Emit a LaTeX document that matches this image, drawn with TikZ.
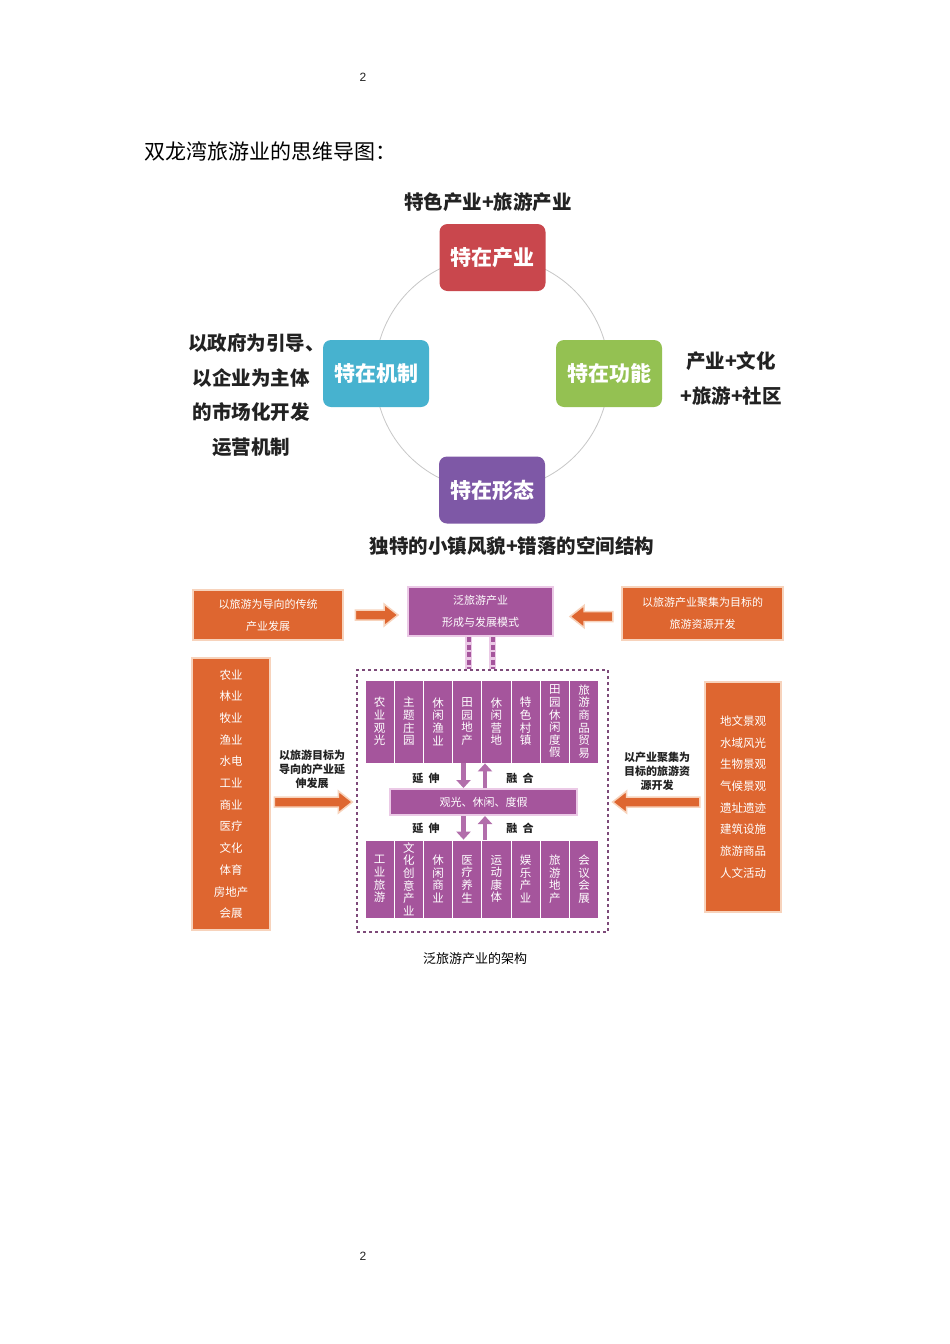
\documentclass[tikz,border=0pt]{standalone}
\usepackage{fontspec}
\setmainfont{Noto Sans CJK SC}
\newfontfamily\latinf{Liberation Sans}
\usetikzlibrary{calc,arrows.meta}
\definecolor{cred}{HTML}{C9474D}
\definecolor{cblue}{HTML}{47B2CF}
\definecolor{cgreen}{HTML}{94C152}
\definecolor{cviolet}{HTML}{7E58A6}
\definecolor{corange}{HTML}{DE6630}
\definecolor{cpeach}{HTML}{F7D3BC}
\definecolor{cpurple}{HTML}{A5559C}
\definecolor{cpink}{HTML}{EBC9E6}
\definecolor{cframe}{HTML}{7D4A79}
\definecolor{ctext}{HTML}{222222}
\newcommand\blockarr[2]{%
  \coordinate (ba-h) at ($(#2)!14pt!(#1)$);
  \filldraw[barr] ($(#1)!5pt!90:(#2)$) -- ($(ba-h)!5pt!90:(#2)$) -- ($(ba-h)!11pt!90:(#2)$) -- (#2)
     -- ($(ba-h)!11pt!-90:(#2)$) -- ($(ba-h)!5pt!-90:(#2)$) -- ($(#1)!5pt!-90:(#2)$) -- cycle;}
\begin{document}
\begin{tikzpicture}[x=1pt,y=-1pt,
  topbox/.style={rounded corners=8pt, minimum width=106pt, minimum height=67pt, inner sep=0pt,
     text=white, font=\bfseries\fontsize{21}{21}\selectfont},
  lbl/.style={font=\bfseries\fontsize{19.5}{34.5}\selectfont, align=center, text=ctext},
  obox/.style={fill=corange, draw=cpeach, line width=2.5pt, text=white, inner sep=0pt,
     font=\fontsize{11}{22}\selectfont, align=center},
  pbox/.style={fill=cpurple, draw=cpink, line width=2pt, text=white, inner sep=0pt,
     font=\fontsize{11}{22}\selectfont, align=center},
  colbox/.style={fill=cpurple, draw=white, line width=0.8pt, minimum width=29.2pt, inner sep=0pt,
     text=white, font=\fontsize{11.5}{12.6}\selectfont, align=center},
  small/.style={font=\bfseries\fontsize{11}{14}\selectfont, align=center, text=ctext},
  barr/.style={fill=corange, draw=cpeach, line width=1.5pt, line join=miter},
  parr/.style={draw=cpurple!85, line width=4.5pt, -{Triangle[width=14pt,length=8pt]}},
  pgnum/.style={font=\latinf\fontsize{12}{12}\selectfont, text=ctext}
]
\useasboundingbox (0,0) rectangle (950,1344);
\fill[white] (0,0) rectangle (950,1344);

\node[pgnum] (pg1) at (363,77) {2};
\node[pgnum] (pg2) at (363,1256) {2};
\node[anchor=west, font=\fontsize{21}{21}\selectfont, text=black, inner sep=0pt] (title) at (144,151) {双龙湾旅游业的思维导图：};

% ---- top mind map ----
\draw[black!22, line width=0.8pt] (492,373.5) circle (117);
\node[topbox, fill=cred] (ind) at (492.5,257.5) {特在产业};
\node[topbox, fill=cblue] (mech) at (376,373.5) {特在机制};
\node[topbox, fill=cgreen] (func) at (609,373.5) {特在功能};
\node[topbox, fill=cviolet] (form) at (492,490) {特在形态};

\node[lbl] (lind) at (488,202) {特色产业+旅游产业};
\node[lbl] (lmech) at (251,395) {以政府为引导\makebox[0.45em][l]{、}\\以企业为主体\\的市场化开发\\运营机制};
\node[lbl] (lfunc) at (731,378.5) {产业+文化\\+旅游+社区};
\node[lbl] (lform) at (512,546) {独特的小镇风貌+错落的空间结构};

% ---- bottom structure ----
\node[obox, minimum width=150pt, minimum height=50pt] (tl) at (268,615) {以旅游为导向的传统\\产业发展};
\node[pbox, minimum width=145pt, minimum height=49pt] (cp) at (480.5,611.5) {泛旅游产业\\形成与发展模式};
\node[obox, minimum width=161pt, minimum height=53pt] (trb) at (702.5,613.5) {以旅游产业聚集为目标的\\旅游资源开发};

\coordinate (a1s) at ([xshift=11pt]tl.east);
\coordinate (a1e) at ([xshift=-9pt]cp.west |- a1s);
\blockarr{a1s}{a1e}
\coordinate (a2s) at ([xshift=-8pt,yshift=-3pt]trb.west);
\coordinate (a2e) at ([xshift=16pt]cp.east |- a2s);
\blockarr{a2s}{a2e}

\node[draw=cframe, dashed, line width=1.3pt, minimum width=251pt, minimum height=262pt, inner sep=0pt] (frame) at (482.5,801) {};

% double dashed link
\foreach \dx/\nm in {-12/l,12/r}{
  \draw[cpink, line width=7pt] ([xshift=\dx pt]cp.south) -- ([xshift=\dx pt]cp.south |- frame.north);
  \draw[cpurple, line width=4pt, dash pattern=on 5pt off 2.5pt] ([xshift=\dx pt]cp.south) -- ([xshift=\dx pt]cp.south |- frame.north);
}

% top row columns
\foreach \t [count=\i] in {农\\业\\观\\光, 主\\题\\庄\\园, 休\\闲\\渔\\业, 田\\园\\地\\产, 休\\闲\\营\\地, 特\\色\\村\\镇, 田\\园\\休\\闲\\度\\假, 旅\\游\\商\\品\\贸\\易}{
  \node[colbox, minimum height=83pt] (t\i) at ({365+14.6+29.2*(\i-1)},721.5) {\t};
}
% bottom row columns
\foreach \t [count=\i] in {工\\业\\旅\\游, 文\\化\\创\\意\\产\\业, 休\\闲\\商\\业, 医\\疗\\养\\生, 运\\动\\康\\体, 娱\\乐\\产\\业, 旅\\游\\地\\产, 会\\议\\会\\展}{
  \node[colbox, minimum height=78pt] (b\i) at ({365+14.6+29.2*(\i-1)},879) {\t};
}

\node[pbox, minimum width=187pt, minimum height=26pt] (mb) at (483.5,802) {观光、休闲、度假};

\draw[parr] ([xshift=-20pt]mb.north |- t4.south) -- ([xshift=-20pt]mb.north);
\draw[parr] ([xshift=1.5pt]mb.north) -- ([xshift=1.5pt]mb.north |- t5.south);
\draw[parr] ([xshift=-20pt]mb.south) -- ([xshift=-20pt]mb.south |- b4.north);
\draw[parr] ([xshift=1.5pt]mb.south |- b5.north) -- ([xshift=1.5pt]mb.south);

\node[small] (ys1) at (426,778) {延\ \ 伸};
\node[small] (rh1) at (520,778) {融\ \ 合};
\node[small] (ys2) at (426,828) {延\ \ 伸};
\node[small] (rh2) at (520,828) {融\ \ 合};

% left column
\node[obox, minimum width=78pt, minimum height=272pt, font=\fontsize{11.5}{21.7}\selectfont] (lc) at (231,794)
  {农业\\林业\\牧业\\渔业\\水电\\工业\\商业\\医疗\\文化\\体育\\房地产\\会展};
\node[small] (llab) at (312,769) {以旅游目标为\\导向的产业延\\伸发展};
\coordinate (a3s) at ([xshift=3pt]lc.east |- mb.west);
\coordinate (a3e) at ([xshift=-4pt]frame.west |- mb.west);
\blockarr{a3s}{a3e}

% right column
\node[obox, minimum width=76pt, minimum height=230pt, font=\fontsize{11.5}{21.7}\selectfont] (rc) at (743,797)
  {地文景观\\水域风光\\生物景观\\气候景观\\遗址遗迹\\建筑设施\\旅游商品\\人文活动};
\node[small] (rlab) at (657,771) {以产业聚集为\\目标的旅游资\\源开发};
\coordinate (a4s) at ([xshift=-4pt]rc.west |- mb.east);
\coordinate (a4e) at ([xshift=4pt]frame.east |- mb.east);
\blockarr{a4s}{a4e}

\node[font=\fontsize{13}{13}\selectfont, text=black] (cap) at (475,959) {泛旅游产业的架构};
\end{tikzpicture}
\end{document}
